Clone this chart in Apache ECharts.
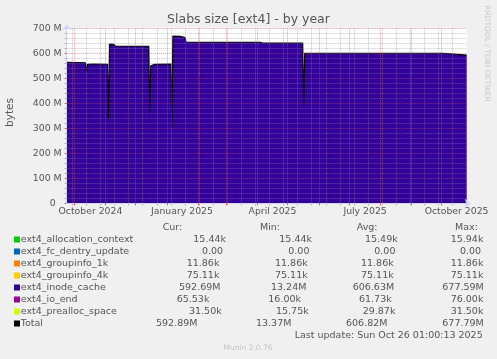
<!DOCTYPE html>
<html>
<head>
<meta charset="utf-8">
<script src="https://cdn.jsdelivr.net/npm/echarts@6/dist/echarts.min.js"></script>
<style>
html,body{margin:0;padding:0;background:#f0f0f0;}
#c{width:497px;height:359px;}
</style>
</head>
<body>
<div id="c"></div>
<script>
// ---- data ----
const dates = ['2024-09-23 10:00','2024-10-12','2024-10-13','2024-10-14','2024-10-19','2024-10-20','2024-10-21',
  '2024-11-03','2024-11-04','2024-11-05','2024-11-09','2024-11-11','2024-12-14','2024-12-15','2024-12-16',
  '2024-12-20','2025-01-05','2025-01-06','2025-01-07','2025-01-14','2025-01-19','2025-01-20','2025-04-04',
  '2025-04-06','2025-05-16','2025-05-17','2025-05-18','2025-10-03','2025-10-04','2025-10-26 01:00'];
const inodeCache = [564,562,528,556,557,549,557,556,337,637,636,628,628,362,550,556,557,304,669,668,663,644,644,641,641,388,600,600,593,592.7];
const totalValues = [564.2,562.2,528.2,556.2,557.2,549.2,557.2,556.2,337.2,637.2,636.2,628.2,628.2,362.2,550.2,556.2,557.2,304.2,669.2,668.2,663.2,644.2,644.2,641.2,641.2,388.2,600.2,600.2,593.2,592.9];

const xLabelDates = ['2024-10-17','2025-01-16','2025-04-16','2025-07-17','2025-10-16'];
const xLabelTexts = ['October 2024','January 2025','April 2025','July 2025','October 2025'];
const monthStarts = ['2024-10-01','2024-11-01','2024-12-01','2025-01-01','2025-02-01','2025-03-01','2025-04-01',
  '2025-05-01','2025-06-01','2025-07-01','2025-08-01','2025-09-01','2025-10-01'];
const minorDates = ['2024-09-29','2024-10-13','2024-10-27','2024-11-10','2024-11-24','2024-12-08','2024-12-22',
  '2025-01-05','2025-01-19','2025-02-02','2025-02-16','2025-03-02','2025-03-16','2025-03-30','2025-04-13',
  '2025-04-27','2025-05-11','2025-05-25','2025-06-08','2025-06-22','2025-07-06','2025-07-20','2025-08-03',
  '2025-08-17','2025-08-31','2025-09-14','2025-09-28','2025-10-12'];

const legendNames = ['ext4_allocation_context','ext4_fc_dentry_update','ext4_groupinfo_1k','ext4_groupinfo_4k',
  'ext4_inode_cache','ext4_io_end','ext4_prealloc_space','Total'];
const legendColors = ['#00cc00','#0066b3','#ff8000','#ffcc00','#330099','#990099','#ccff00','#000000'];
const curVals = ['15.44k','0.00','11.86k','75.11k','592.69M','65.53k','31.50k','592.89M'];
const minVals = ['15.44k','0.00','11.86k','75.11k','13.24M','16.00k','15.75k','13.37M'];
const avgVals = ['15.49k','0.00','11.86k','75.11k','606.63M','61.73k','29.87k','606.82M'];
const maxVals = ['15.94k','0.00','11.86k','75.11k','677.59M','76.00k','31.50k','677.79M'];
const lastUpdate = 'Last update: Sun Oct 26 01:00:13 2025';

// ---- layout (positions only) ----
const curX = [193.3,202,186.7,186.7,179,176.7,189,156];
const minX = [279.3,288.3,275,275,271,268.3,276,256];
const avgX = [365,374.3,361,361,352.7,359,362.7,346];
const maxX = [450.7,460,450.7,450.7,442.3,450.7,450.7,442.3];
const rowY0 = 239.5, rowDY = 12;

const FONT = 'DejaVu Sans';
const TXT = '#555555';
const MGRID = 'rgba(222,80,80,0.55)';
const GRID = 'rgba(143,143,143,0.5)';
const ts = s => new Date(s.length === 10 ? s + 'T00:00:00' : s.replace(' ', 'T') + ':00').getTime();
const xMin = ts('2024-09-23 10:00'), xMax = ts('2025-10-26 01:00');

const chart = echarts.init(document.getElementById('c'), null, {renderer:'canvas', width:497, height:359});

const graphics = [];
graphics.push({type:'text', x:248.5, y:19.5, style:{text:'Slabs size [ext4] - by year', font:'12.5px "DejaVu Sans"', fill:TXT, align:'center', verticalAlign:'middle'}});
graphics.push({type:'text', x:10.5, y:112.5, rotation:Math.PI/2, style:{text:'bytes', font:'10.5px "DejaVu Sans"', fill:TXT, align:'center', verticalAlign:'middle'}});
graphics.push({type:'text', x:486.5, y:53.5, rotation:-Math.PI/2, style:{text:'RRDTOOL / TOBI OETIKER', font:'7.5px "DejaVu Sans"', fill:'#c8c8c8', align:'center', verticalAlign:'middle'}});
const headers = [['Cur:',162.7],['Min:',260],['Avg:',356.7],['Max:',455]];
headers.forEach(h => graphics.push({type:'text', x:h[1], y:227.5, style:{text:h[0], font:'9.5px "DejaVu Sans"', fill:TXT, align:'left', verticalAlign:'middle'}}));
legendNames.forEach((n,i) => {
  const y = rowY0 + rowDY*i;
  graphics.push({type:'rect', shape:{x:14, y:y-3, width:6, height:6}, style:{fill:legendColors[i]}});
  graphics.push({type:'text', x:20.7, y:y, style:{text:n, font:'9.5px "DejaVu Sans"', fill:TXT, align:'left', verticalAlign:'middle'}});
  [[curVals,curX],[minVals,minX],[avgVals,avgX],[maxVals,maxX]].forEach(p => {
    graphics.push({type:'text', x:p[1][i], y:y, style:{text:p[0][i], font:'9.5px "DejaVu Sans"', fill:TXT, align:'left', verticalAlign:'middle'}});
  });
});
graphics.push({type:'text', x:482.7, y:335.5, style:{text:lastUpdate, font:'9.5px "DejaVu Sans"', fill:TXT, align:'right', verticalAlign:'middle'}});
graphics.push({type:'text', x:248, y:348.5, style:{text:'Munin 2.0.76', font:'7.5px "DejaVu Sans"', fill:'#c4c4c4', align:'center', verticalAlign:'middle'}});

const labelMap = {};
xLabelDates.forEach((d,i) => { labelMap[ts(d)] = xLabelTexts[i]; });

const option = {
  backgroundColor:'#f0f0f0',
  animation:false,
  textStyle:{fontFamily:FONT},
  grid:{left:66.7, right:30.3, top:28.3, bottom:155.7, show:true, backgroundColor:'#ffffff', borderWidth:0},
  xAxis:[{
    type:'value', min:xMin, max:xMax, z:6, scale:true,
    axisLine:{show:true, lineStyle:{color:'#cfd6f8'}, symbol:['none','arrow'], symbolSize:[7,6], symbolOffset:[0,4]},
    axisTick:{show:true, customValues: monthStarts.map(ts), length:2, lineStyle:{color:'#de5050'}},
    axisLabel:{customValues: xLabelDates.map(ts), formatter: v => labelMap[v] || '', color:TXT, fontSize:9.3, fontFamily:FONT, margin:4, hideOverlap:false},
    splitLine:{show:true, lineStyle:{color:MGRID, type:[1,1], width:1}}
  },{
    type:'value', min:xMin, max:xMax, z:5, scale:true, position:'bottom',
    axisLine:{show:false},
    axisTick:{show:true, customValues: minorDates.map(ts), length:2, lineStyle:{color:'#aaaaaa'}},
    axisLabel:{show:false},
    splitLine:{show:true, lineStyle:{color:GRID, type:[1,1], width:1}}
  }],
  yAxis:{
    type:'value', min:0, max:700, interval:100, z:5,
    axisLine:{show:true, lineStyle:{color:'#cfd6f8'}, symbol:['none','arrow'], symbolSize:[7,6], symbolOffset:[0,4]},
    axisTick:{show:true, length:2, lineStyle:{color:'#de5050'}},
    minorTick:{show:true, splitNumber:5, length:2, lineStyle:{color:'#aaaaaa'}},
    axisLabel:{formatter: v => v === 0 ? '0  ' : v + ' M', color:TXT, fontSize:9.4, fontFamily:FONT, margin:5},
    splitLine:{show:true, lineStyle:{color:MGRID, type:[1,1], width:1}},
    minorSplitLine:{show:true, lineStyle:{color:GRID, type:[1,1], width:1}}
  },
  series:[
    {name:'ext4_inode_cache', type:'line', z:2, showSymbol:false, symbol:'none',
     data: dates.map((d,i) => [ts(d), inodeCache[i]]),
     lineStyle:{width:0}, areaStyle:{color:'#330099', opacity:1}},
    {name:'Total', type:'line', z:3, showSymbol:false, symbol:'none',
     data: dates.map((d,i) => [ts(d), totalValues[i]]),
     lineStyle:{color:'#000000', width:1.2}}
  ],
  graphic: graphics
};
chart.setOption(option);
</script>
</body>
</html>
